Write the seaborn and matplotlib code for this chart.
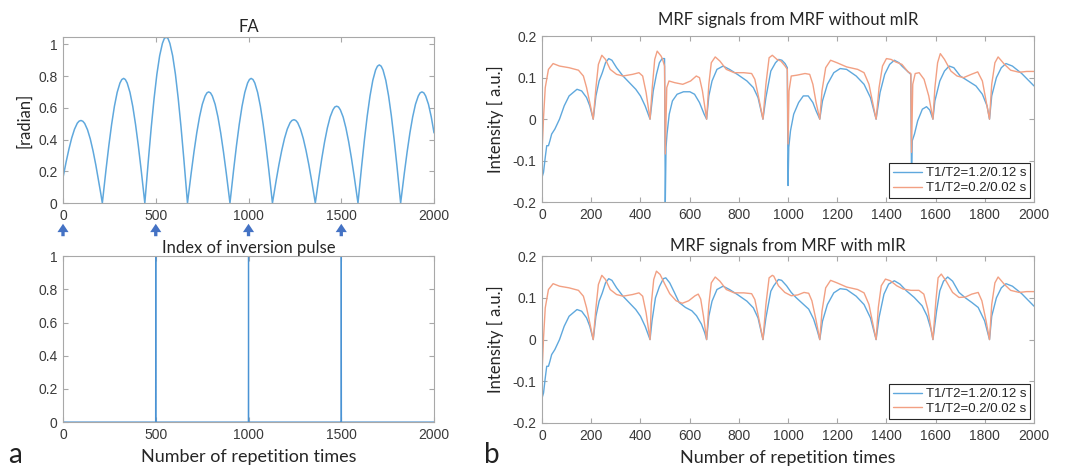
import numpy as np
import pandas as pd
import seaborn as sns
import matplotlib.pyplot as plt
from matplotlib.ticker import FuncFormatter

sns.set_style("ticks")
plt.rcParams['font.family'] = ['Liberation Sans', 'DejaVu Sans']

# flip angle train (radian)
fa_x = [0, 17, 32, 47, 62, 77, 87, 97, 107, 117, 132, 147, 162, 177, 192, 204, 212,
        220, 232, 247, 262, 277, 292, 307, 317, 327, 336, 346, 361, 376, 391, 406, 421, 433, 441,
        449, 461, 476, 491, 506, 521, 536, 546, 556, 566, 576, 591, 606, 621, 636, 651, 663, 671,
        679, 691, 706, 721, 736, 751, 766, 776, 785, 795, 805, 820, 835, 850, 865, 880, 892, 900,
        908, 920, 935, 950, 965, 980, 995, 1005, 1014, 1024, 1034, 1049, 1064, 1079, 1094, 1109, 1121, 1129,
        1137, 1149, 1164, 1179, 1194, 1209, 1224, 1234, 1245, 1255, 1265, 1280, 1295, 1310, 1325, 1340, 1352, 1360,
        1368, 1380, 1395, 1410, 1425, 1440, 1455, 1465, 1475, 1485, 1495, 1510, 1525, 1540, 1555, 1570, 1582, 1590,
        1598, 1610, 1625, 1640, 1655, 1670, 1685, 1695, 1705, 1715, 1725, 1740, 1755, 1770, 1785, 1800, 1812, 1820,
        1828, 1840, 1855, 1870, 1885, 1900, 1915, 1925, 1935, 1945, 1955, 1970, 1985, 2000]
fa_y = [0.16, 0.26, 0.34, 0.41, 0.465, 0.503, 0.516, 0.52, 0.515, 0.501, 0.462, 0.404, 0.328, 0.239, 0.140, 0.057, 0.0,
        0.086, 0.212, 0.361, 0.495, 0.609, 0.697, 0.756, 0.778, 0.785, 0.778, 0.756, 0.697, 0.609, 0.495, 0.361, 0.212, 0.086, 0.0,
        0.114, 0.282, 0.481, 0.659, 0.811, 0.928, 1.006, 1.036, 1.045, 1.036, 1.006, 0.928, 0.811, 0.659, 0.481, 0.282, 0.114, 0.0,
        0.076, 0.189, 0.322, 0.442, 0.543, 0.622, 0.674, 0.694, 0.70, 0.694, 0.674, 0.622, 0.543, 0.442, 0.322, 0.189, 0.076, 0.0,
        0.086, 0.212, 0.361, 0.495, 0.609, 0.697, 0.756, 0.778, 0.785, 0.778, 0.756, 0.697, 0.609, 0.495, 0.361, 0.212, 0.086, 0.0,
        0.057, 0.142, 0.242, 0.331, 0.407, 0.466, 0.506, 0.520, 0.525, 0.520, 0.506, 0.466, 0.407, 0.331, 0.242, 0.142, 0.057, 0.0,
        0.066, 0.165, 0.281, 0.385, 0.473, 0.542, 0.587, 0.605, 0.61, 0.605, 0.587, 0.542, 0.473, 0.385, 0.281, 0.165, 0.066, 0.0,
        0.095, 0.235, 0.400, 0.549, 0.675, 0.773, 0.838, 0.862, 0.87, 0.862, 0.838, 0.773, 0.675, 0.549, 0.400, 0.235, 0.095, 0.0,
        0.076, 0.189, 0.322, 0.442, 0.543, 0.622, 0.674, 0.694, 0.70, 0.694, 0.674, 0.622, 0.543, 0.442]

# repetition index of the inversion pulses
pulse_pos = [500, 1000, 1500]
n_tr = 2000

# MRF signals without mIR, (TR index, intensity)
noir_t1long = [(0, -0.14), (6, -0.128), (13, -0.092), (19, -0.064), (26, -0.064), (32, -0.052),
               (39, -0.036), (52, -0.024), (71, 0.0), (90, 0.032), (110, 0.056), (142, 0.072),
               (161, 0.068), (181, 0.052), (194, 0.032), (208, 0.0), (219, 0.056), (232, 0.092),
               (245, 0.112), (258, 0.136), (271, 0.146), (284, 0.142), (303, 0.124), (329, 0.104),
               (355, 0.088), (381, 0.072), (400, 0.056), (419, 0.032), (439, 0.0), (452, 0.068),
               (465, 0.108), (477, 0.136), (488, 0.146), (498, 0.146), (501, -0.2), (504, -0.068),
               (508, -0.036), (517, 0.012), (530, 0.044), (549, 0.06), (575, 0.066), (601, 0.066),
               (620, 0.06), (640, 0.04), (659, 0.012), (669, 0.0), (678, 0.056), (691, 0.092),
               (711, 0.12), (736, 0.128), (762, 0.12), (794, 0.108), (833, 0.092), (859, 0.076),
               (878, 0.052), (898, 0.0), (910, 0.052), (930, 0.116), (949, 0.136), (962, 0.144),
               (975, 0.142), (988, 0.134), (997, 0.124), (1000, -0.16), (1003, -0.068), (1010, -0.028),
               (1023, 0.012), (1043, 0.04), (1062, 0.056), (1082, 0.056), (1101, 0.04), (1114, 0.02),
               (1129, 0.0), (1140, 0.044), (1160, 0.084), (1186, 0.112), (1212, 0.122), (1238, 0.12),
               (1277, 0.104), (1309, 0.084), (1335, 0.052), (1358, 0.0), (1374, 0.064), (1393, 0.108),
               (1413, 0.132), (1432, 0.142), (1451, 0.136), (1463, 0.128), (1488, 0.114), (1499, 0.108),
               (1502, -0.148), (1505, -0.052), (1514, -0.036), (1527, -0.004), (1546, 0.024), (1563, 0.03),
               (1576, 0.022), (1589, 0.0), (1597, 0.044), (1617, 0.092), (1636, 0.116), (1655, 0.128),
               (1674, 0.124), (1700, 0.104), (1732, 0.092), (1764, 0.08), (1790, 0.06), (1809, 0.032),
               (1819, 0.0), (1828, 0.056), (1847, 0.1), (1867, 0.124), (1886, 0.134), (1912, 0.128),
               (1950, 0.11), (1975, 0.095), (2000, 0.08)]
noir_t1short = [(0, -0.08), (6, 0.004), (13, 0.076), (26, 0.12), (45, 0.134), (71, 0.128),
                (110, 0.124), (148, 0.118), (168, 0.104), (181, 0.076), (194, 0.04), (208, 0.0),
                (219, 0.076), (229, 0.132), (243, 0.154), (258, 0.144), (277, 0.12), (303, 0.108),
                (329, 0.104), (368, 0.108), (394, 0.112), (409, 0.104), (423, 0.064), (439, 0.0),
                (448, 0.076), (458, 0.144), (468, 0.164), (484, 0.152), (490, 0.144), (498, 0.128),
                (501, -0.084), (507, 0.076), (516, 0.092), (539, 0.088), (572, 0.084), (604, 0.092),
                (627, 0.104), (640, 0.1), (652, 0.068), (669, 0.0), (678, 0.084), (688, 0.136),
                (704, 0.15), (723, 0.14), (749, 0.12), (781, 0.112), (820, 0.112), (852, 0.11),
                (865, 0.096), (882, 0.048), (898, 0.0), (910, 0.084), (923, 0.148), (936, 0.154),
                (955, 0.144), (971, 0.14), (988, 0.128), (997, 0.12), (1000, -0.06), (1004, 0.068),
                (1013, 0.104), (1036, 0.106), (1069, 0.11), (1088, 0.108), (1101, 0.084), (1114, 0.04),
                (1129, 0.0), (1138, 0.068), (1153, 0.124), (1173, 0.142), (1199, 0.136), (1238, 0.126),
                (1283, 0.12), (1309, 0.112), (1329, 0.084), (1344, 0.04), (1358, 0.0), (1370, 0.076),
                (1384, 0.128), (1400, 0.146), (1419, 0.144), (1437, 0.138), (1463, 0.132), (1488, 0.114),
                (1499, 0.11), (1502, -0.08), (1507, 0.084), (1517, 0.11), (1533, 0.112), (1553, 0.096),
                (1572, 0.056), (1589, 0.0), (1597, 0.076), (1608, 0.136), (1619, 0.158), (1636, 0.144),
                (1662, 0.116), (1687, 0.104), (1713, 0.1), (1745, 0.108), (1771, 0.114), (1790, 0.092),
                (1805, 0.044), (1819, 0.0), (1828, 0.084), (1841, 0.136), (1854, 0.15), (1880, 0.132),
                (1905, 0.118), (1940, 0.113), (1970, 0.115), (2000, 0.115)]

# MRF signals with mIR
mir_t1long = [(0, -0.14), (6, -0.128), (13, -0.092), (19, -0.064), (26, -0.064), (32, -0.052),
              (39, -0.036), (52, -0.024), (71, 0.0), (90, 0.032), (110, 0.056), (142, 0.072),
              (161, 0.068), (181, 0.052), (194, 0.032), (208, 0.0), (219, 0.056), (232, 0.092),
              (245, 0.112), (258, 0.136), (271, 0.146), (284, 0.142), (303, 0.124), (329, 0.104),
              (355, 0.088), (381, 0.072), (400, 0.056), (419, 0.032), (439, 0.0), (447, 0.045),
              (461, 0.1), (477, 0.127), (493, 0.146), (503, 0.148), (519, 0.136), (538, 0.113),
              (557, 0.089), (583, 0.077), (609, 0.069), (628, 0.057), (648, 0.037), (661, 0.017),
              (669, 0.0), (678, 0.056), (691, 0.092), (711, 0.12), (736, 0.128), (762, 0.12),
              (794, 0.108), (833, 0.092), (859, 0.076), (878, 0.052), (898, 0.0), (910, 0.052),
              (930, 0.116), (942, 0.129), (961, 0.144), (974, 0.142), (994, 0.129), (1013, 0.113),
              (1032, 0.101), (1058, 0.087), (1084, 0.073), (1104, 0.049), (1119, 0.021), (1129, 0.0),
              (1140, 0.044), (1160, 0.084), (1186, 0.112), (1212, 0.122), (1238, 0.12), (1277, 0.104),
              (1309, 0.084), (1335, 0.052), (1358, 0.0), (1370, 0.053), (1390, 0.109), (1409, 0.133),
              (1432, 0.141), (1455, 0.133), (1481, 0.117), (1513, 0.101), (1545, 0.081), (1565, 0.057),
              (1581, 0.025), (1589, 0.0), (1604, 0.069), (1617, 0.117), (1632, 0.14), (1649, 0.15),
              (1669, 0.14), (1695, 0.113), (1721, 0.1), (1747, 0.089), (1773, 0.077), (1799, 0.045),
              (1819, 0.0), (1828, 0.056), (1847, 0.1), (1867, 0.124), (1886, 0.134), (1912, 0.128),
              (1950, 0.11), (1975, 0.095), (2000, 0.08)]
mir_t1short = [(0, -0.08), (6, 0.004), (13, 0.076), (26, 0.12), (45, 0.134), (71, 0.128),
               (110, 0.124), (148, 0.118), (168, 0.104), (181, 0.076), (194, 0.04), (208, 0.0),
               (219, 0.076), (229, 0.132), (243, 0.154), (258, 0.144), (277, 0.12), (303, 0.108),
               (329, 0.104), (368, 0.108), (394, 0.112), (409, 0.104), (423, 0.064), (439, 0.0),
               (444, 0.085), (454, 0.144), (465, 0.164), (480, 0.156), (499, 0.133), (519, 0.11),
               (545, 0.093), (570, 0.087), (596, 0.093), (622, 0.105), (635, 0.109), (645, 0.097),
               (656, 0.057), (669, 0.0), (678, 0.084), (688, 0.136), (704, 0.15), (723, 0.14),
               (749, 0.12), (781, 0.112), (820, 0.112), (852, 0.11), (865, 0.096), (882, 0.048),
               (898, 0.0), (910, 0.084), (923, 0.148), (936, 0.154), (942, 0.152), (961, 0.129),
               (987, 0.113), (1013, 0.105), (1039, 0.107), (1065, 0.113), (1084, 0.111), (1097, 0.093),
               (1113, 0.049), (1129, 0.0), (1138, 0.068), (1153, 0.124), (1173, 0.142), (1199, 0.136),
               (1238, 0.126), (1283, 0.12), (1309, 0.112), (1329, 0.084), (1344, 0.04), (1358, 0.0),
               (1367, 0.077), (1379, 0.129), (1396, 0.145), (1416, 0.141), (1442, 0.129), (1468, 0.121),
               (1500, 0.118), (1532, 0.118), (1552, 0.109), (1568, 0.073), (1589, 0.0), (1601, 0.093),
               (1610, 0.148), (1623, 0.157), (1643, 0.14), (1669, 0.113), (1695, 0.101), (1721, 0.102),
               (1747, 0.109), (1773, 0.113), (1788, 0.093), (1805, 0.045), (1819, 0.0), (1828, 0.084),
               (1841, 0.136), (1854, 0.15), (1880, 0.132), (1905, 0.118), (1940, 0.113), (1970, 0.115),
               (2000, 0.115)]

labels = ['T1/T2=1.2/0.12 s', 'T1/T2=0.2/0.02 s']
blue = '#5fa8dd'
orange = '#f2a083'
spine_col = '#a8a8a8'
text_col = '#3a3a3a'
title_font = ['Lato', 'DejaVu Sans']


def style_axes(ax, xt, yt):
    ax.set_xlim(0, 2000)
    ax.set_xticks(xt)
    ax.set_yticks(yt)
    ax.yaxis.set_major_formatter(FuncFormatter(lambda v, p: '%g' % round(v, 3)))
    for s in ax.spines.values():
        s.set_color(spine_col)
        s.set_linewidth(0.8)
    ax.tick_params(direction='in', top=True, right=True, length=3.5, width=0.8,
                   color=spine_col, labelcolor=text_col, labelsize=10, pad=4)


fig = plt.figure(figsize=(10.77, 4.7), dpi=100)
ax1 = fig.add_axes([0.0585, 0.568, 0.3445, 0.353])
ax2 = fig.add_axes([0.0585, 0.102, 0.3445, 0.353])
ax3 = fig.add_axes([0.5033, 0.570, 0.4568, 0.353])
ax4 = fig.add_axes([0.5033, 0.100, 0.4568, 0.355])

# FA
sns.lineplot(x=fa_x, y=fa_y, ax=ax1, color=blue, linewidth=1.1, estimator=None)
style_axes(ax1, [0, 500, 1000, 1500, 2000], [0, 0.2, 0.4, 0.6, 0.8, 1])
ax1.set_ylim(0, 1.045)
ax1.set_title('FA', fontsize=12, family=title_font, pad=4)
ax1.set_ylabel('[radian]', fontsize=12, family=title_font, labelpad=4)
for p in [0] + pulse_pos:
    ax1.annotate('', xy=(p, -0.125), xytext=(p, -0.2),
                 xycoords=('data', 'axes fraction'), textcoords=('data', 'axes fraction'),
                 arrowprops=dict(width=2.4, headwidth=8, headlength=6, shrink=0,
                                 facecolor='#4472c4', edgecolor='#4472c4', lw=0),
                 annotation_clip=False)

# inversion pulse index
tr = np.arange(0, n_tr + 1)
pulse = np.isin(tr, pulse_pos).astype(float)
sns.lineplot(x=tr, y=pulse, ax=ax2, color='#4a93d4', linewidth=0.9, estimator=None)
style_axes(ax2, [0, 500, 1000, 1500, 2000], [0, 0.2, 0.4, 0.6, 0.8, 1])
ax2.set_ylim(0, 1)
ax2.set_title('Index of inversion pulse', fontsize=12, family=title_font, pad=2)
ax2.set_xlabel('Number of repetition times', fontsize=13, family=title_font, labelpad=5)

# MRF signals
for ax, pair, ttl, tpad in [(ax3, (noir_t1long, noir_t1short), 'MRF signals from MRF without mIR', 8),
                            (ax4, (mir_t1long, mir_t1short), 'MRF signals from MRF with mIR', 4)]:
    for series, col, lab in zip(pair, [blue, orange], labels):
        df = pd.DataFrame(series, columns=['tr', 'signal'])
        sns.lineplot(data=df, x='tr', y='signal', ax=ax, color=col, linewidth=1.0,
                     estimator=None, label=lab)
    style_axes(ax, list(range(0, 2001, 200)), [-0.2, -0.1, 0, 0.1, 0.2])
    ax.set_ylim(-0.2, 0.2)
    ax.set_title(ttl, fontsize=12, family=title_font, pad=tpad)
    ax.set_ylabel('Intensity [ a.u.]', fontsize=12, family=title_font, labelpad=6)
    ax.set_xlabel('')
    leg = ax.legend(loc='lower right', fontsize=9.5, frameon=True, fancybox=False,
                    framealpha=1, edgecolor='#262626', borderaxespad=0.3,
                    handlelength=2.2, borderpad=0.3, labelspacing=0.2, handletextpad=0.3)
    leg.get_frame().set_linewidth(0.8)
ax4.set_xlabel('Number of repetition times', fontsize=13, family=title_font, labelpad=5)

fig.text(0.008, 0.015, 'a', fontsize=20, family=title_font, color='#222222')
fig.text(0.449, 0.015, 'b', fontsize=20, family=title_font, color='#222222')

fig.savefig('out.png', dpi=100)
